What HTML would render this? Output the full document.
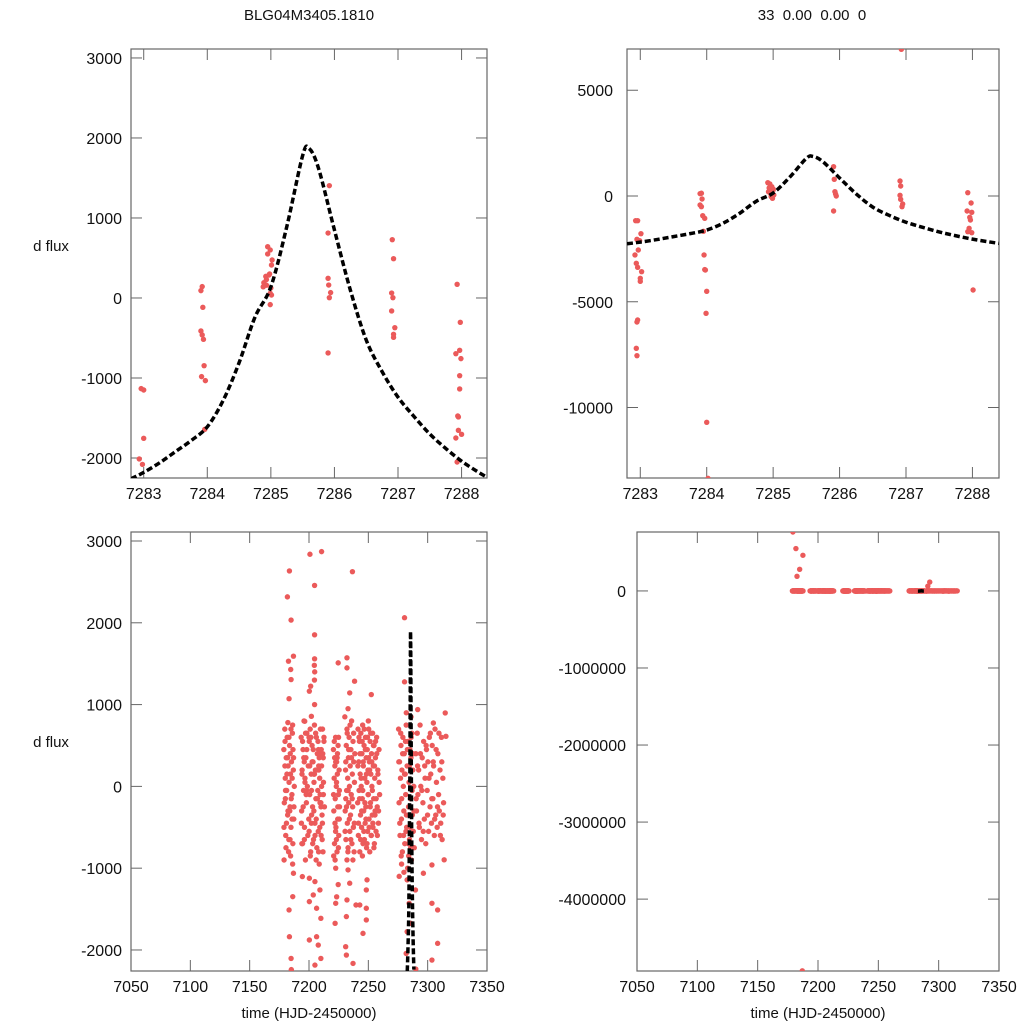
<!DOCTYPE html>
<html><head><meta charset="utf-8"><style>
html,body{margin:0;padding:0;background:#fff;overflow:hidden;width:1024px;height:1024px;}
svg{display:block;}
svg text{font-family:"Liberation Sans",sans-serif;fill:#111;}
</style></head><body>
<svg id="chart" width="1024" height="1024" viewBox="0 0 1024 1024" xmlns="http://www.w3.org/2000/svg">
<text x="309" y="20" font-size="15" text-anchor="middle">BLG04M3405.1810</text>
<text x="812" y="20" font-size="15" text-anchor="middle" xml:space="preserve" style="white-space:pre">33  0.00  0.00  0</text>
<text x="51" y="251" font-size="15" text-anchor="middle">d flux</text>
<text x="51" y="747" font-size="15" text-anchor="middle">d flux</text>
<text x="309" y="1018" font-size="15" text-anchor="middle">time (HJD-2450000)</text>
<text x="818" y="1018" font-size="15" text-anchor="middle">time (HJD-2450000)</text>
</svg>
<script>
// Model light curve (sampled)
const modelTime = [7282.8,7283.0,7283.25,7283.5,7283.75,7284.0,7284.25,7284.5,7284.75,7285.0,7285.25,7285.5,7285.6,7285.75,7286.0,7286.25,7286.5,7286.75,7287.0,7287.25,7287.5,7287.75,7288.0,7288.25,7288.4];
const modelFlux = [-2260,-2180,-2060,-1920,-1780,-1610,-1280,-810,-240,140,890,1780,1870,1620,850,100,-525,-920,-1240,-1480,-1700,-1880,-2040,-2170,-2240];

// Top-left zoomed data
const tlTime = [7282.93,7282.98,7282.96,7283.0,7283.0,7283.90,7283.92,7283.93,7283.90,7283.92,7283.94,7283.95,7283.91,7283.97,7283.96,7284.95,7284.99,7284.95,7285.02,7285.01,7284.97,7284.92,7284.98,7284.89,7284.93,7285.0,7284.88,7284.99,7285.01,7284.99,7284.93,7285.92,7285.90,7285.90,7285.91,7285.94,7285.92,7285.90,7286.91,7286.93,7286.90,7286.92,7286.90,7286.95,7286.93,7286.93,7287.93,7287.98,7287.91,7287.97,7287.99,7287.97,7287.97,7287.94,7287.95,7287.95,7288.0,7287.91,7287.93];
const tlFlux = [-2012,-2080,-1133,-1150,-1754,92,142,-117,-412,-462,-517,-846,-983,-1033,-1642,641,600,550,475,412,287,270,300,191,160,125,140,58,37,-83,230,1404,812,246,162,67,4,-687,729,491,62,4,-162,-371,-454,-492,171,-304,-696,-654,-758,-971,-1137,-1475,-1487,-1654,-1704,-1750,-2050];

// Top-right data
const trTime = [7282.93,7282.96,7283.01,7282.95,7282.99,7282.97,7282.92,7282.94,7282.96,7283.02,7283.0,7283.0,7282.96,7282.95,7282.94,7282.95,7283.90,7283.92,7283.93,7283.90,7283.92,7283.94,7283.97,7283.95,7283.96,7283.98,7283.97,7284.0,7283.99,7284.0,7284.02,7284.92,7284.95,7284.98,7285.0,7284.93,7284.96,7285.01,7284.97,7284.99,7285.0,7284.94,7285.91,7285.92,7285.93,7285.94,7285.95,7285.91,7286.93,7286.91,7286.92,7286.91,7286.92,7286.95,7286.94,7287.93,7287.98,7287.92,7287.99,7287.96,7287.97,7287.95,7287.93,7287.99,7288.01];
const trFlux = [-1166,-1166,-1781,-2049,-2112,-2553,-2789,-3183,-3372,-3577,-3893,-4035,-5863,-5958,-7203,-7550,111,130,-142,-426,-504,-930,-1056,-1670,-2789,-3499,-3480,-4508,-5548,-10700,-13350,630,570,440,280,200,126,47,-30,-110,330,380,1387,788,205,95,0,-709,6934,709,473,32,-158,-378,-504,158,-331,-709,-772,-1009,-1135,-1529,-1687,-1734,-4445];

// Full-season data
const seasonTime = [
7178.8,7179.2,7179.6,7180.0,7180.4,7180.8,7181.2,7181.6,7182.0,7182.4,7182.8,7183.2,7183.6,7184.0,7184.4,7184.8,7185.2,7185.6,7186.0,7186.4,7186.8,7187.2,7187.6,7179.0,7179.8,7181.0,7182.2,7183.0,7184.2,7185.0,7186.2,7187.0,7180.2,7183.8,7185.8,
7183.5,7181.8,7184.9,7186.9,7182.7,7184.6,7184.9,7183.2,7186.9,7186.3,7183.2,7183.5,7184.9,7185.1,
7193.4,7193.8,7194.2,7194.6,7195.0,7195.4,7195.8,7196.2,7196.6,7197.0,7197.4,7197.8,7198.2,7198.6,7199.0,7199.4,7199.8,7200.2,7200.6,7201.0,7201.4,7201.8,7202.2,7202.6,7203.0,7203.4,7203.8,7204.2,7204.6,7205.0,7205.4,7205.8,7206.2,7206.6,7207.0,7207.4,7207.8,7208.2,7208.6,7209.0,7209.4,7209.8,7210.2,7210.6,7211.0,7211.4,7211.8,7212.2,7212.6,7213.0,7194.0,7196.0,7198.0,7200.0,7202.0,7204.0,7206.0,7208.0,7210.0,7212.0,
7200.8,7210.6,7204.7,7204.7,7204.7,7204.5,7204.8,7204.6,7201.4,7200.3,7204.7,7196.4,7202.0,7194.4,7200.3,7205.0,7209.2,7203.6,7200.3,7206.4,7210.0,7200.3,7206.4,7207.8,7210.0,7205.0,
7220.6,7220.9,7221.2,7221.5,7221.8,7222.1,7222.4,7222.7,7223.0,7223.3,7223.6,7223.9,7224.2,7224.5,7224.8,7225.1,7225.4,7225.7,7220.8,7221.6,7222.4,7223.2,7224.0,7224.8,7225.6,
7224.6,7222.5,7224.6,7222.5,7223.3,7222.0,
7230.2,7230.5,7230.8,7231.1,7231.4,7231.7,7232.0,7232.3,7232.6,7232.9,7233.2,7233.5,7233.8,7234.1,7234.4,7234.7,7235.0,7235.3,7235.6,7235.9,7236.2,7236.5,7236.8,7237.1,7237.4,7237.7,7238.0,7238.3,7238.6,7231.0,
7236.6,7232.0,7232.0,7238.4,7234.3,7232.0,7232.9,7234.3,7232.0,7231.5,7230.9,7231.5,7237.1,7232.9,
7241.0,7241.3,7241.6,7241.9,7242.2,7242.5,7242.8,7243.1,7243.4,7243.7,7244.0,7244.3,7244.6,7244.9,7245.2,7245.5,7245.8,7246.1,7246.4,7246.7,7247.0,7247.3,7247.6,7247.9,7248.2,7248.5,7248.8,7249.1,7249.4,7249.7,7250.0,7250.3,7250.6,7250.9,7251.2,7251.5,7251.8,7252.1,7252.4,7252.7,7253.0,7253.3,7253.6,7253.9,7254.2,7254.5,7254.8,7255.1,7255.4,7255.7,7256.0,7256.5,7257.0,7257.5,7258.0,7258.5,7259.0,7259.5,7245.0,7250.0,
7252.5,7248.9,7248.3,7248.3,7248.3,7245.5,7239.6,7242.8,
7275.5,7275.9,7276.3,7276.7,7277.1,7277.5,7277.9,7278.3,7278.7,7279.1,7279.5,7279.9,7280.3,7280.7,7281.1,7281.5,7281.9,7282.3,7282.7,7283.1,7283.5,7283.9,7284.3,7284.7,7285.1,7285.5,7285.9,7286.3,7286.7,7287.1,7287.5,7287.9,7288.3,7288.7,7276.0,7278.0,7280.0,7282.0,7284.0,7286.0,
7280.5,7280.5,7291.6,7282.7,7289.7,7284.4,7285.8,7282.7,7281.9,7290.0,
7290.0,7290.6,7291.2,7291.8,7292.4,7293.0,7293.6,7294.2,7294.8,7295.4,7296.0,7296.6,7297.2,7297.8,7298.4,7299.0,7299.6,7300.2,7300.8,7301.4,7302.0,7302.6,7303.2,7303.8,7304.4,7305.0,7305.6,7306.2,7306.8,7307.4,7308.0,7308.6,7309.2,7309.8,7310.4,7311.0,7311.6,7312.2,7312.8,7313.4,
7314.8,7315.4,7304.8,7313.9,7303.6,7296.4,7303.6,7308.4,7308.4,7303.6,
7179.2,7181.7,7187.5,7184.8,7182.6,7187.0,7292.6,7291.0];
const seasonFlux = [
450,-200,700,100,-600,350,-50,600,-350,250,-800,50,500,-250,150,-500,300,-100,650,-700,200,-400,0,-900,550,-450,780,-650,400,-150,-950,350,-50,-300,100,
2634,2317,2033,1592,1531,1429,1306,1072,-1062,-1348,-1511,-1838,-2103,-2240,
600,-300,200,-700,450,-50,800,-500,100,-900,350,-200,650,0,-600,250,-400,550,-100,700,-800,150,-350,500,-250,300,-650,50,750,-450,200,-150,600,-750,400,-50,-550,250,-950,100,-100,400,-600,250,-350,700,-800,50,550,-250,-700,300,-50,600,-450,150,-900,450,-200,350,
2838,2870,2457,1853,1560,1480,1400,1300,1225,1164,1000,796,857,-1103,-1123,-1164,-1266,-1327,-1409,-1490,-1613,-1878,-1838,-1940,-2103,-2185,
450,-300,100,-700,250,-150,600,-500,0,300,-800,150,-400,500,-100,-600,200,-250,-850,350,-550,50,400,-750,-50,
1510,-1000,-1200,-1429,-1350,-1674,
850,-300,200,-650,500,-50,700,-450,100,-750,350,-200,600,0,-550,250,-350,450,-100,800,-700,150,-250,550,-500,300,-800,50,400,-150,
2625,1572,1449,1286,1143,-899,-1021,-1184,-1388,-1592,-1960,-2062,-2164,950,
-200,700,-600,300,-50,550,-800,150,-350,650,0,-500,400,-150,750,-700,250,-300,500,-650,100,-450,600,-250,350,-750,50,450,-550,200,-100,700,-400,300,-800,550,-200,150,-600,400,0,-350,650,-500,250,-150,500,-700,100,-300,350,-550,600,-250,200,-450,450,-100,-850,800,
1123,-1143,-1266,-1490,-1633,-1797,-1450,-1450,
700,-200,300,-600,100,500,-400,200,-800,600,0,-300,400,-700,150,-100,750,-500,250,-1000,550,-250,50,-650,450,-150,350,-900,650,-350,200,-550,0,-750,-1100,-950,-1050,900,-850,850,
2062,1278,939,-1143,-1266,-1429,-1674,-1776,-2042,-2233,
400,-300,650,-100,200,-500,750,0,-650,350,-200,550,-400,100,-700,450,-50,300,-550,600,-250,150,-450,500,-150,250,-600,700,-350,50,-500,400,-100,-300,200,-450,600,-650,100,-200,
898,612,775,-898,-960,-1062,-1429,-1511,-1919,-2123,
765000,550000,463000,281000,190000,-4930000,115000,62000];

// Additional full-season points (dense cores)
const seasonTime2 = [
7193.6,7194.1,7194.6,7195.1,7195.6,7196.1,7196.6,7197.1,7197.6,7198.1,7200.1,7200.6,7201.1,7201.6,7202.1,7202.6,7203.1,7203.6,7204.1,7204.6,7205.1,7205.6,7206.1,7206.6,7207.1,7207.6,7208.1,7208.6,7209.1,7209.6,7210.1,7210.6,7211.1,7211.6,7212.1,7212.6,7208.3,7209.3,7210.3,7211.3,
7241.2,7241.7,7242.1,7242.6,7243.0,7243.5,7243.9,7244.4,7244.8,7245.3,7245.7,7246.2,7246.6,7247.1,7247.5,7248.0,7248.4,7248.9,7249.3,7249.8,7250.2,7250.7,7251.1,7251.6,7252.0,7252.5,7252.9,7253.4,7253.8,7254.3,7254.7,7255.2,7255.6,7256.1,7256.6,7257.1,7257.6,7258.1,7258.6,7259.1,
7178.9,7179.7,7180.6,7181.4,7182.3,7183.1,7184.0,7184.8,7185.7,7186.5,7187.3,7180.1,7182.0,7184.5,7186.2,
7220.7,7221.3,7221.9,7222.5,7223.1,7223.7,7224.3,7224.9,7225.5,7222.0,
7230.4,7231.0,7231.6,7232.2,7232.8,7233.4,7234.0,7234.6,7235.2,7235.8,7236.4,7237.0,7237.6,7238.2,7233.0,
7275.7,7276.5,7277.3,7278.1,7278.9,7279.7,7280.5,7281.3,7282.1,7282.9,7283.7,7284.5,7285.3,7286.1,7286.9,7287.7,7288.5,7277.7,7281.7,7285.7,
7290.3,7291.5,7292.7,7293.9,7295.1,7296.3,7297.5,7298.7,7299.9,7301.1,7302.3,7303.5,7304.7,7305.9,7307.1,7308.3,7309.5,7310.7,7311.9,7313.1];
const seasonFlux2 = [
-450,150,550,-250,350,-650,50,650,-100,450,-550,250,-850,600,-50,300,-700,450,-300,150,-600,650,-400,200,-150,550,-800,350,-500,700,-250,0,-650,400,-100,600,200,-200,450,-450,
250,-450,600,-150,400,-650,100,-300,550,-50,300,-550,700,-200,450,-400,150,-700,600,-100,350,-500,200,-250,650,-600,300,-50,-450,500,-750,250,-350,550,-150,400,-600,150,-300,50,
-500,250,-750,150,-300,600,-650,700,-400,450,-250,-150,350,-850,750,
-100,550,-450,300,-650,350,-250,600,-400,-900,
-550,300,-250,650,-800,450,-400,750,-650,350,-150,-900,650,-450,-50,
300,-450,650,-150,400,-600,150,550,-350,450,-700,250,-500,600,-50,400,-300,-850,-550,-750,
-150,250,-450,400,-50,-550,250,500,-350,100,650,-150,300,-400,450,-250,650,-600,300,-350];

// Tick labels
const tlXTicks = [7283,7284,7285,7286,7287,7288];
const tlYTicks = [-2000,-1000,0,1000,2000,3000];
const trYTicks = [-10000,-5000,0,5000];
const blXTicks = [7050,7100,7150,7200,7250,7300,7350];
const blYTicks = [-2000,-1000,0,1000,2000,3000];
const brYTicks = [-4000000,-3000000,-2000000,-1000000,0];

const NS = 'http://www.w3.org/2000/svg';
const svg = document.getElementById('chart');
function mk(tag, attrs, parent){
  const e = document.createElementNS(NS, tag);
  for (const k in attrs) e.setAttribute(k, attrs[k]);
  (parent||svg).appendChild(e);
  return e;
}
const allTime = seasonTime.concat(seasonTime2);
const allFlux = seasonFlux.concat(seasonFlux2);
const panels = [
 {id:'top-left', l:131,r:487,t:49,b:478, tmin:7282.80,tmax:7288.40, vmin:-2250,vmax:3112, xt:tlXTicks, yt:tlYTicks, lab:122, xs:tlTime, ys:tlFlux},
 {id:'top-right', l:627,r:999,t:49,b:478, tmin:7282.80,tmax:7288.40, vmin:-13333,vmax:6950, xt:tlXTicks, yt:trYTicks, lab:613, xs:trTime, ys:trFlux},
 {id:'bottom-left', l:131,r:487,t:532,b:971, tmin:7050,tmax:7350, vmin:-2257,vmax:3110, xt:blXTicks, yt:blYTicks, lab:122, xs:allTime, ys:allFlux},
 {id:'bottom-right', l:637,r:999,t:532,b:971, tmin:7050,tmax:7350, vmin:-4933000,vmax:765000, xt:blXTicks, yt:brYTicks, lab:626, xs:allTime, ys:allFlux}
];
function smoothPath(P){
  let d = 'M' + P[0][0].toFixed(2) + ',' + P[0][1].toFixed(2);
  for (let i = 0; i < P.length - 1; i++){
    const p0 = P[Math.max(0,i-1)], p1 = P[i], p2 = P[i+1], p3 = P[Math.min(P.length-1,i+2)];
    const c1x = p1[0] + (p2[0]-p0[0])/6, c1y = p1[1] + (p2[1]-p0[1])/6;
    const c2x = p2[0] - (p3[0]-p1[0])/6, c2y = p2[1] - (p3[1]-p1[1])/6;
    d += ' C' + c1x.toFixed(2)+','+c1y.toFixed(2)+' '+c2x.toFixed(2)+','+c2y.toFixed(2)+' '+p2[0].toFixed(2)+','+p2[1].toFixed(2);
  }
  return d;
}
panels.forEach(p=>{
  const X = t => p.l + (t - p.tmin)/(p.tmax - p.tmin)*(p.r - p.l);
  const Y = v => p.b - (v - p.vmin)/(p.vmax - p.vmin)*(p.b - p.t);
  const g = mk('g', {});
  
  
  const cp = mk('clipPath', {id:'clip-'+p.id}, g);
  mk('rect', {x:p.l, y:p.t, width:p.r-p.l, height:p.b-p.t}, cp);
  p.xt.forEach(v=>{
    const x = X(v);
    const t1 = mk('line', {x1:x,x2:x,y1:p.b,y2:p.b-11,stroke:'#666','stroke-width':1}, g);
    
    
    mk('line', {x1:x,x2:x,y1:p.t,y2:p.t+11,stroke:'#666','stroke-width':1}, g);
    const tx = mk('text', {x:x, y:p.b+21, 'font-size':16, 'text-anchor':'middle'}, g);
    
    
    tx.textContent = v;
  });
  p.yt.forEach(v=>{
    const y = Y(v);
    const t1 = mk('line', {x1:p.l,x2:p.l+11,y1:y,y2:y,stroke:'#666','stroke-width':1}, g);
    
    
    mk('line', {x1:p.r,x2:p.r-11,y1:y,y2:y,stroke:'#666','stroke-width':1}, g);
    const tx = mk('text', {x:p.lab, y:y+6, 'font-size':16, 'text-anchor':'end'}, g);
    
    
    tx.textContent = v;
  });
  const fr = mk('rect', {x:p.l, y:p.t, width:p.r-p.l, height:p.b-p.t, fill:'none', stroke:'#666','stroke-width':1.2}, g);
  
  
  const dg = mk('g', {'clip-path':'url(#clip-'+p.id+')'}, g);
  p.xs.forEach((t,i)=>{
    const v = p.ys[i];
    if (t < p.tmin || t > p.tmax) return;
    const c = mk('circle', {cx:X(t), cy:Y(v), r:2.7, fill:'#eb5a5a'}, dg);
    
    
  });
  const P = modelTime.map((t,i)=>[X(t), Y(modelFlux[i])]);
  const m = mk('path', {d:smoothPath(P), fill:'none', stroke:'#000','stroke-width':3.5,'stroke-dasharray':'6 3'}, dg);
  
  
});
</script>
</body></html>
